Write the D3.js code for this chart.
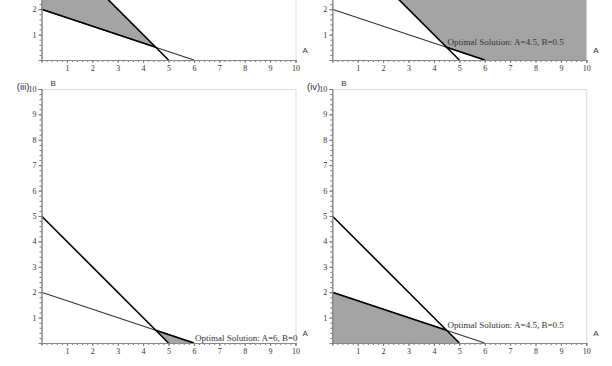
<!DOCTYPE html>
<html>
<head>
<meta charset="utf-8">
<script src="https://cdn.jsdelivr.net/npm/d3@7"></script>
<style>
  body { margin: 0; background: #fff; }
  svg { display: block; }
</style>
</head>
<body>
<svg id="chart" width="612" height="366"></svg>
<script>
// axis ticks (both axes 0..10)
const aTicks = [1, 2, 3, 4, 5, 6, 7, 8, 9, 10];
const bTicks = [1, 2, 3, 4, 5, 6, 7, 8, 9, 10];

// constraint lines: A + B = 5  and  A/3 + B = 2
const constraint1 = [[0, 5], [5, 0]];
const constraint2 = [[0, 2], [6, 0]];

// shaded regions for each panel
const regionI = [[0, 2], [4.5, 0.5], [0, 5]];
const regionII = [[10, 0], [6, 0], [4.5, 0.5], [0, 5], [0, 10], [10, 10]];
const regionIII = [[4.5, 0.5], [6, 0], [5, 0]];
const regionIV = [[0, 0], [5, 0], [4.5, 0.5], [0, 2]];

// region edges that sit on a constraint (drawn heavy)
const borderI = [[0, 2], [4.5, 0.5]];
const borderII = [[4.5, 0.5], [6, 0]];
const borderIII = [[4.5, 0.5], [6, 0]];
const borderIV = [[0, 2], [4.5, 0.5]];

const panelNames = ["(i)", "(ii)", "(iii)", "(iv)"];
const optimalText = [null, "Optimal Solution: A=4.5, B=0.5", "Optimal Solution: A=6, B=0", "Optimal Solution: A=4.5, B=0.5"];
const optimalPoint = [null, [4.5, 0.5], [6, 0], [4.5, 0.5]];

const panels = [
  { region: regionI, border: borderI, ox: 41.5, oy: 60 },
  { region: regionII, border: borderII, ox: 332.3, oy: 60 },
  { region: regionIII, border: borderIII, ox: 41.5, oy: 343 },
  { region: regionIV, border: borderIV, ox: 332.3, oy: 343 }
];

const size = 254;
const svg = d3.select("#chart");
const serif = "'Liberation Serif', 'Times New Roman', serif";
const sans = "'Liberation Sans', Arial, sans-serif";

panels.forEach((p, i) => {
  const x = d3.scaleLinear().domain([0, 10]).range([p.ox, p.ox + size]);
  const y = d3.scaleLinear().domain([0, 10]).range([p.oy, p.oy - size]);
  const g = svg.append("g");
  const line = d3.line().x(d => x(d[0])).y(d => y(d[1]));

  // light frame on top and right
  g.append("path")
    .attr("d", `M${x(0)},${y(10) + 0.5}H${x(10) + 0.5}V${y(0)}`)
    .attr("fill", "none")
    .attr("stroke", "#dcdcdc")
    .attr("stroke-width", 1);

  // feasible region
  g.append("path")
    .attr("d", line(p.region) + "Z")
    .attr("fill", "#a4a4a4");

  // constraints
  g.append("path")
    .attr("d", line(constraint2))
    .attr("fill", "none")
    .attr("stroke", "#333")
    .attr("stroke-width", 1.1);
  g.append("path")
    .attr("d", line(constraint1))
    .attr("fill", "none")
    .attr("stroke", "#000")
    .attr("stroke-width", 1.6);
  g.append("path")
    .attr("d", line(p.border))
    .attr("fill", "none")
    .attr("stroke", "#000")
    .attr("stroke-width", 1.6);

  // minor ticks
  const minor = d3.range(0, 10.001, 0.2);
  const xMinor = g.append("g")
    .attr("transform", `translate(0,${p.oy})`)
    .call(d3.axisBottom(x).tickValues(minor).tickSize(2).tickFormat(""));
  const yMinor = g.append("g")
    .attr("transform", `translate(${p.ox},0)`)
    .call(d3.axisLeft(y).tickValues(minor).tickSize(2).tickFormat(""));

  // major ticks with labels (skip labels that fall above the picture)
  const yVisible = bTicks.filter(v => y(v) > 4);
  const xAxis = g.append("g")
    .attr("transform", `translate(0,${p.oy})`)
    .call(d3.axisBottom(x).tickValues(aTicks).tickSize(3).tickPadding(2).tickFormat(d3.format("d")));
  const yAxis = g.append("g")
    .attr("transform", `translate(${p.ox},0)`)
    .call(d3.axisLeft(y).tickValues(yVisible).tickSize(3).tickPadding(2).tickFormat(d3.format("d")));

  [xMinor, yMinor, xAxis, yAxis].forEach(ax => {
    ax.select(".domain").attr("stroke", "#888");
    ax.selectAll(".tick line").attr("stroke", "#777");
    ax.selectAll("text")
      .attr("fill", "#333")
      .style("font-family", serif)
      .style("font-size", "8px");
  });

  // axis names
  g.append("text")
    .attr("x", x(10) + 7)
    .attr("y", p.oy - 7)
    .attr("fill", "#333")
    .style("font-family", sans)
    .style("font-size", "8px")
    .text("A");

  if (y(10) > 0) {
    g.append("text")
      .attr("x", p.ox + 9)
      .attr("y", y(10) - 3)
      .attr("fill", "#333")
      .style("font-family", sans)
      .style("font-size", "8px")
      .text("B");

    // panel name
    g.append("text")
      .attr("x", p.ox - 12)
      .attr("y", y(10) + 1)
      .attr("text-anchor", "end")
      .attr("fill", "#2a2a4a")
      .style("font-family", sans)
      .style("font-size", "9.5px")
      .text(panelNames[i]);
  }

  // optimal solution note
  if (optimalText[i]) {
    g.append("text")
      .attr("x", x(optimalPoint[i][0]) + 1)
      .attr("y", y(optimalPoint[i][1]) - 2)
      .attr("fill", "#333")
      .style("font-family", serif)
      .style("font-size", "9px")
      .text(optimalText[i]);
  }
});
</script>
</body>
</html>
